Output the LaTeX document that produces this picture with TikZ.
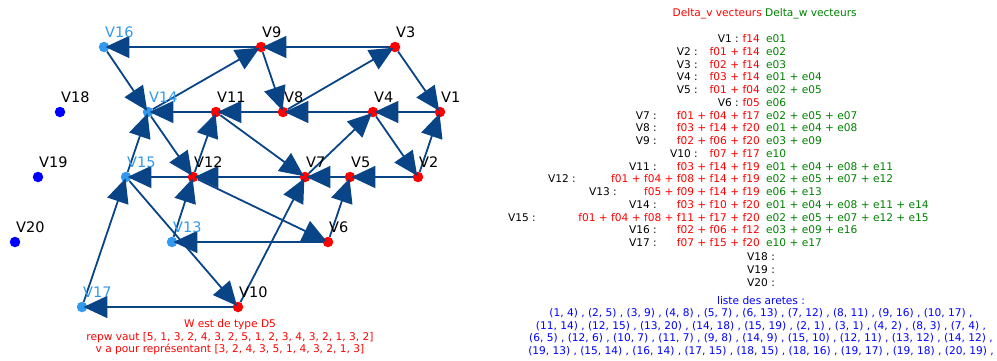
\documentclass[tikz,border=0pt]{standalone}
\usepackage{fontspec}
\setmainfont{DejaVu Sans}
\usetikzlibrary{positioning, arrows.meta}
\definecolor{edgeblue}{RGB}{8,68,134}
\definecolor{lightnode}{RGB}{51,153,238}
\definecolor{vgreen}{RGB}{0,128,0}

\begin{document}
\begin{tikzpicture}[
        x=1pt, y=-1pt,
        vertex/.style={circle, inner sep=0pt, minimum size=10.5pt},
        vred/.style={vertex, fill=red},
        vlight/.style={vertex, fill=lightnode},
        vblue/.style={vertex, fill=blue},
        vname/.style={anchor=base west, inner sep=0pt, font=\fontsize{14.5}{17}\selectfont},
        link/.style={
            -{Triangle[length=24pt,width=22pt]},
            line width=1.8pt,
            draw=edgeblue,
            shorten >=-4pt
        },
        txt/.style={inner sep=0pt, font=\fontsize{10.6}{12.5}\selectfont},
        rowname/.style={txt, anchor=mid east},
        fvec/.style={txt, anchor=mid east, text=red},
        evec/.style={txt, anchor=mid west, text=vgreen}
    ]

        \useasboundingbox (0,0) rectangle (997,360);

        % vertices
        \node[vred] (v1) at (440,112) {};
        \node[vred] (v2) at (418,177) {};
        \node[vred] (v3) at (395,47) {};
        \node[vred] (v4) at (373,112) {};
        \node[vred] (v5) at (350,177) {};
        \node[vred] (v6) at (328,242) {};
        \node[vred] (v7) at (305,177) {};
        \node[vred] (v8) at (283,112) {};
        \node[vred] (v9) at (261,47) {};
        \node[vred] (v10) at (238,307) {};
        \node[vred] (v11) at (216,112) {};
        \node[vred] (v12) at (193,177) {};
        \node[vlight] (v13) at (172,242) {};
        \node[vlight] (v14) at (148,112) {};
        \node[vlight] (v15) at (126,177) {};
        \node[vlight] (v16) at (104,47) {};
        \node[vlight] (v17) at (82,307) {};
        \node[vblue] (v18) at (60,112) {};
        \node[vblue] (v19) at (38,177) {};
        \node[vblue] (v20) at (15,242) {};

        % arrows
        \draw[link] (v3) -- (v9);
        \draw[link] (v9) -- (v16);
        \draw[link] (v16) -- (v14);
        \draw[link] (v14) -- (v9);
        \draw[link] (v9) -- (v8);
        \draw[link] (v8) -- (v3);
        \draw[link] (v3) -- (v1);
        \draw[link] (v1) -- (v4);
        \draw[link] (v4) -- (v8);
        \draw[link] (v8) -- (v11);
        \draw[link] (v11) -- (v14);
        \draw[link] (v14) -- (v12);
        \draw[link] (v12) -- (v11);
        \draw[link] (v11) -- (v7);
        \draw[link] (v7) -- (v4);
        \draw[link] (v4) -- (v2);
        \draw[link] (v2) -- (v1);
        \draw[link] (v2) -- (v5);
        \draw[link] (v5) -- (v7);
        \draw[link] (v7) -- (v12);
        \draw[link] (v12) -- (v15);
        \draw[link] (v15) -- (v14);
        \draw[link] (v15) -- (v10);
        \draw[link] (v13) -- (v12);
        \draw[link] (v12) -- (v6);
        \draw[link] (v6) -- (v13);
        \draw[link] (v6) -- (v5);
        \draw[link] (v10) -- (v7);
        \draw[link] (v10) -- (v17);
        \draw[link] (v17) -- (v15);

        % vertex names
        \node[vname] (t1) at ([shift={(1,-10)}]v1.center) {V1};
        \node[vname] (t2) at ([shift={(1,-10)}]v2.center) {V2};
        \node[vname] (t3) at ([shift={(1,-10)}]v3.center) {V3};
        \node[vname] (t4) at ([shift={(1,-10)}]v4.center) {V4};
        \node[vname] (t5) at ([shift={(1,-10)}]v5.center) {V5};
        \node[vname] (t6) at ([shift={(1,-10)}]v6.center) {V6};
        \node[vname] (t7) at ([shift={(1,-10)}]v7.center) {V7};
        \node[vname] (t8) at ([shift={(1,-10)}]v8.center) {V8};
        \node[vname] (t9) at ([shift={(1,-10)}]v9.center) {V9};
        \node[vname] (t10) at ([shift={(1,-10)}]v10.center) {V10};
        \node[vname] (t11) at ([shift={(1,-10)}]v11.center) {V11};
        \node[vname] (t12) at ([shift={(1,-10)}]v12.center) {V12};
        \node[vname, text=lightnode] (t13) at ([shift={(1,-10)}]v13.center) {V13};
        \node[vname, text=lightnode] (t14) at ([shift={(1,-10)}]v14.center) {V14};
        \node[vname, text=lightnode] (t15) at ([shift={(1,-10)}]v15.center) {V15};
        \node[vname, text=lightnode] (t16) at ([shift={(1,-10)}]v16.center) {V16};
        \node[vname, text=lightnode] (t17) at ([shift={(1,-10)}]v17.center) {V17};
        \node[vname] (t18) at ([shift={(1,-10)}]v18.center) {V18};
        \node[vname] (t19) at ([shift={(1,-10)}]v19.center) {V19};
        \node[vname] (t20) at ([shift={(1,-10)}]v20.center) {V20};

        % left caption
        \node[txt, align=center, text=red] (typew) at (230,337.5)
            {W est de type D5\\
             repw vaut [5, 1, 3, 2, 4, 3, 2, 5, 1, 2, 3, 4, 3, 2, 1, 3, 2]\\
             v a pour représentant [3, 2, 4, 3, 5, 1, 4, 3, 2, 1, 3]};

        % table of vectors
        \node[fvec] (headv) at (762,14) {Delta\_v vecteurs};
        \node[evec] (headw) at (765,14) {Delta\_w vecteurs};

        \node[rowname] (n1) at (739,40) {V1 :}; \node[fvec] (f1) at (760,40) {f14}; \node[evec] (e1) at (766,40) {e01};
        \node[rowname] (n2) at (698,52.75) {V2 :}; \node[fvec] (f2) at (760,52.75) {f01 + f14}; \node[evec] (e2) at (766,52.75) {e02};
        \node[rowname] (n3) at (698,65.5) {V3 :}; \node[fvec] (f3) at (760,65.5) {f02 + f14}; \node[evec] (e3) at (766,65.5) {e03};
        \node[rowname] (n4) at (698,78.25) {V4 :}; \node[fvec] (f4) at (760,78.25) {f03 + f14}; \node[evec] (e4) at (766,78.25) {e01 + e04};
        \node[rowname] (n5) at (698,91) {V5 :}; \node[fvec] (f5) at (760,91) {f01 + f04}; \node[evec] (e5) at (766,91) {e02 + e05};
        \node[rowname] (n6) at (739,103.75) {V6 :}; \node[fvec] (f6) at (760,103.75) {f05}; \node[evec] (e6) at (766,103.75) {e06};
        \node[rowname] (n7) at (657,116.5) {V7 :}; \node[fvec] (f7) at (760,116.5) {f01 + f04 + f17}; \node[evec] (e7) at (766,116.5) {e02 + e05 + e07};
        \node[rowname] (n8) at (657,129.25) {V8 :}; \node[fvec] (f8) at (760,129.25) {f03 + f14 + f20}; \node[evec] (e8) at (766,129.25) {e01 + e04 + e08};
        \node[rowname] (n9) at (657,142) {V9 :}; \node[fvec] (f9) at (760,142) {f02 + f06 + f20}; \node[evec] (e9) at (766,142) {e03 + e09};
        \node[rowname] (n10) at (698,154.75) {V10 :}; \node[fvec] (f10) at (760,154.75) {f07 + f17}; \node[evec] (e10) at (766,154.75) {e10};
        \node[rowname] (n11) at (657,167.5) {V11 :}; \node[fvec] (f11) at (760,167.5) {f03 + f14 + f19}; \node[evec] (e11) at (766,167.5) {e01 + e04 + e08 + e11};
        \node[rowname] (n12) at (576,180.25) {V12 :}; \node[fvec] (f12) at (760,180.25) {f01 + f04 + f08 + f14 + f19}; \node[evec] (e12) at (766,180.25) {e02 + e05 + e07 + e12};
        \node[rowname] (n13) at (617,193) {V13 :}; \node[fvec] (f13) at (760,193) {f05 + f09 + f14 + f19}; \node[evec] (e13) at (766,193) {e06 + e13};
        \node[rowname] (n14) at (657,205.75) {V14 :}; \node[fvec] (f14) at (760,205.75) {f03 + f10 + f20}; \node[evec] (e14) at (766,205.75) {e01 + e04 + e08 + e11 + e14};
        \node[rowname] (n15) at (536,218.5) {V15 :}; \node[fvec] (f15) at (760,218.5) {f01 + f04 + f08 + f11 + f17 + f20}; \node[evec] (e15) at (766,218.5) {e02 + e05 + e07 + e12 + e15};
        \node[rowname] (n16) at (657,231.25) {V16 :}; \node[fvec] (f16) at (760,231.25) {f02 + f06 + f12}; \node[evec] (e16) at (766,231.25) {e03 + e09 + e16};
        \node[rowname] (n17) at (657,244) {V17 :}; \node[fvec] (f17) at (760,244) {f07 + f15 + f20}; \node[evec] (e17) at (766,244) {e10 + e17};
        \node[txt] (n18) at (761,256.75) {V18 :};
        \node[txt] (n19) at (761,269.5) {V19 :};
        \node[txt] (n20) at (761,282.25) {V20 :};

        % edge list
        \node[txt, align=center, text=blue] (aretes) at (761,326)
            {liste des aretes :\\
             (1, 4) , (2, 5) , (3, 9) , (4, 8) , (5, 7) , (6, 13) , (7, 12) , (8, 11) , (9, 16) , (10, 17) ,\\
             (11, 14) , (12, 15) , (13, 20) , (14, 18) , (15, 19) , (2, 1) , (3, 1) , (4, 2) , (8, 3) , (7, 4) ,\\
             (6, 5) , (12, 6) , (10, 7) , (11, 7) , (9, 8) , (14, 9) , (15, 10) , (12, 11) , (13, 12) , (14, 12) ,\\
             (19, 13) , (15, 14) , (16, 14) , (17, 15) , (18, 15) , (18, 16) , (19, 17) , (19, 18) , (20, 19) ,};

    \end{tikzpicture}
\end{document}
